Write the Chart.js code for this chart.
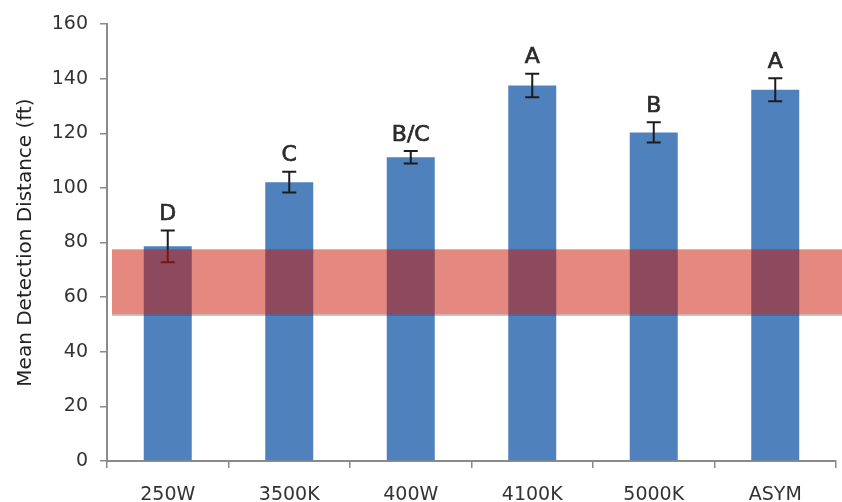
<!DOCTYPE html>
<html>
<head>
<meta charset="utf-8">
<script src="https://cdn.jsdelivr.net/npm/chart.js@4.4.1/dist/chart.umd.min.js"></script>
<style>
  html, body { margin: 0; padding: 0; background: #ffffff; }
  #c { display: block; }
</style>
</head>
<body>
<canvas id="c" width="842" height="502"></canvas>
<script>
// Lamp types and their mean detection distance (ft), with ± error
const categories = ['250W', '3500K', '400W', '4100K', '5000K', 'ASYM'];
const meanDistance = [78.6, 102.1, 111.2, 137.5, 120.3, 135.9];
const errorMargin = [5.8, 3.8, 2.3, 4.3, 3.7, 4.2];
// Statistical grouping letters shown above each bar
const groupLetters = ['D', 'C', 'B/C', 'A', 'B', 'A'];
// Y axis ticks (ft)
const yTicks = [0, 20, 40, 60, 80, 100, 120, 140, 160];
// Shaded reference range (ft): lower and upper bound
const bandRange = [53.7, 77.5];

const FONT = 'DejaVu Sans';

// Error bars, the translucent reference band over them, then the letters
const overlayPlugin = {
  id: 'overlay',
  afterDatasetsDraw(chart) {
    const ctx = chart.ctx;
    const y = chart.scales.y;
    const area = chart.chartArea;
    const bars = chart.getDatasetMeta(0).data;

    ctx.save();
    ctx.strokeStyle = '#1c1c1c';
    ctx.lineWidth = 2;
    const cap = 7;
    bars.forEach((bar, i) => {
      const yHi = y.getPixelForValue(meanDistance[i] + errorMargin[i]);
      const yLo = y.getPixelForValue(meanDistance[i] - errorMargin[i]);
      ctx.beginPath();
      ctx.moveTo(bar.x, yHi);
      ctx.lineTo(bar.x, yLo);
      ctx.moveTo(bar.x - cap, yHi);
      ctx.lineTo(bar.x + cap, yHi);
      ctx.moveTo(bar.x - cap, yLo);
      ctx.lineTo(bar.x + cap, yLo);
      ctx.stroke();
    });

    // reference band
    const top = y.getPixelForValue(bandRange[1]);
    const bottom = y.getPixelForValue(bandRange[0]);
    const left = area.left + 5;
    const right = chart.width;
    ctx.fillStyle = 'rgba(204, 18, 0, 0.5)';
    ctx.fillRect(left, top, right - left, bottom - top);
    ctx.fillStyle = 'rgba(60, 60, 60, 0.35)';
    ctx.fillRect(left, bottom, right - left, 1.5);

    // grouping letters
    ctx.fillStyle = '#2b2b2b';
    ctx.strokeStyle = '#2b2b2b';
    ctx.lineWidth = 0.7;
    ctx.font = '22px "' + FONT + '"';
    ctx.textAlign = 'center';
    ctx.textBaseline = 'middle';
    bars.forEach((bar, i) => {
      const yHi = y.getPixelForValue(meanDistance[i] + errorMargin[i]);
      ctx.fillText(groupLetters[i], bar.x, yHi - 16);
      ctx.strokeText(groupLetters[i], bar.x, yHi - 16);
    });
    ctx.restore();
  }
};

const axisGrey = '#8a8a8a';

new Chart(document.getElementById('c'), {
  type: 'bar',
  data: {
    labels: categories,
    datasets: [{
      data: meanDistance,
      backgroundColor: '#4f81bd',
      borderWidth: 0,
      barPercentage: 0.395,
      categoryPercentage: 1
    }]
  },
  options: {
    responsive: false,
    animation: false,
    devicePixelRatio: 1,
    layout: { padding: { top: 24, right: 6, left: 0, bottom: 0 } },
    plugins: {
      legend: { display: false },
      tooltip: { enabled: false }
    },
    scales: {
      x: {
        grid: {
          display: true,
          offset: true,
          drawOnChartArea: false,
          drawTicks: true,
          tickLength: 7,
          color: axisGrey,
          lineWidth: 1.5
        },
        border: { display: true, color: axisGrey, width: 2 },
        ticks: {
          color: '#333333',
          font: { family: FONT, size: 19 },
          padding: 16,
          maxRotation: 0,
          autoSkip: false
        },
        afterFit(scale) { scale.height = 41; }
      },
      y: {
        min: yTicks[0],
        max: yTicks[yTicks.length - 1],
        afterBuildTicks(scale) { scale.ticks = yTicks.map(v => ({ value: v })); },
        grid: {
          display: true,
          drawOnChartArea: false,
          drawTicks: true,
          tickLength: 7,
          color: axisGrey,
          lineWidth: 1.5
        },
        border: { display: true, color: axisGrey, width: 2 },
        ticks: {
          color: '#333333',
          font: { family: FONT, size: 19 },
          padding: 12
        },
        title: {
          display: true,
          text: 'Mean Detection Distance (ft)',
          color: '#222222',
          font: { family: FONT, size: 20 },
          padding: { top: 14, bottom: 0 }
        },
        afterFit(scale) { scale.width = 107; }
      }
    }
  },
  plugins: [overlayPlugin]
});
</script>
</body>
</html>
